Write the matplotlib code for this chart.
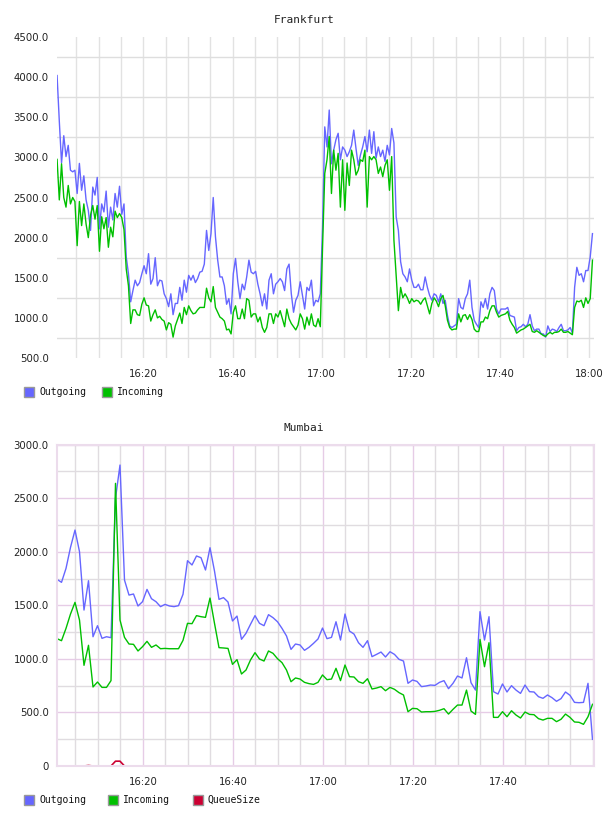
import matplotlib
matplotlib.use("Agg")
import matplotlib.pyplot as plt
import matplotlib.dates as mdates
import pandas as pd
from matplotlib.patches import Rectangle
from matplotlib.ticker import FuncFormatter, MultipleLocator, FixedLocator

# Frankfurt, one sample every 30 s from 16:00:40
fra_outgoing = [
    4020, 3450, 2930, 3270, 3010, 3150, 2840, 2820, 2840, 2550,
    2925, 2590, 2770, 2470, 2340, 2090, 2630, 2530, 2750, 2110,
    2420, 2320, 2580, 2130, 2380, 2220, 2550, 2380, 2640, 2290,
    2420, 1760, 1550, 1200, 1340, 1470, 1400, 1440, 1550, 1650,
    1550, 1800, 1420, 1490, 1750, 1400, 1470, 1460, 1300, 1240,
    1140, 1300, 1040, 1180, 1180, 1380, 1220, 1470, 1320, 1530,
    1470, 1530, 1440, 1490, 1570, 1580, 1670, 2090, 1840, 2050,
    2500, 2010, 1720, 1510, 1510, 1400, 1170, 1240, 1050, 1550,
    1740, 1450, 1240, 1420, 1350, 1510, 1720, 1570, 1550, 1580,
    1420, 1300, 1150, 1300, 1110, 1470, 1550, 1300, 1420, 1450,
    1490, 1450, 1340, 1610, 1670, 1300, 1070, 1220, 1280, 1450,
    1280, 1110, 1380, 1340, 1470, 1150, 1220, 1200, 1300, 2130,
    3380, 3130, 3590, 2920, 3090, 3220, 3300, 2970, 3130, 3090,
    3010, 3070, 3150, 3340, 3110, 2900, 3030, 3130, 3260, 3070,
    3340, 3050, 3320, 2990, 3130, 3010, 3090, 2950, 3150, 3030,
    3360, 3180, 2260, 2090, 1700, 1550, 1510, 1450, 1610, 1470,
    1380, 1380, 1420, 1350, 1350, 1510, 1380, 1280, 1220, 1300,
    1280, 1200, 1300, 1180, 1220, 1030, 900, 880, 900, 920,
    1240, 1130, 1110, 1240, 1300, 1470, 1130, 970, 920, 880,
    1200, 1130, 1240, 1110, 1300, 1380, 1340, 1110, 1050, 1110,
    1110, 1110, 1130, 1030, 1020, 1010, 840, 880, 890, 920,
    890, 920, 1040, 900, 840, 860, 860, 800, 800, 760,
    900, 830, 860, 850, 830, 880, 920, 840, 840, 850,
    880, 810, 1380, 1630, 1530, 1550, 1450, 1590, 1590, 1760, 2050,
]
fra_incoming = [
    2975, 2470, 2920, 2500, 2380, 2650, 2420, 2500, 2450, 1900,
    2450, 2150, 2420, 2170, 2000, 2280, 2400, 2230, 2400, 1830,
    2260, 2110, 2250, 1880, 2130, 2010, 2330, 2250, 2300, 2250,
    2100, 1610, 1400, 930, 1100, 1100, 1040, 1030, 1170, 1250,
    1160, 1150, 960, 1040, 1100, 1000, 1020, 980, 960, 850,
    940, 920, 760, 900, 980, 1060, 930, 1130, 1040, 1150,
    1090, 1050, 1060, 1100, 1130, 1130, 1130, 1370, 1250, 1200,
    1390, 1130, 1070, 1010, 990, 960, 850, 860, 800, 1070,
    1150, 990, 990, 1110, 990, 1240, 1220, 1010, 1050, 1050,
    950, 1010, 880, 820, 880, 1050, 1050, 930, 1050, 1010,
    1090, 990, 890, 1110, 990, 930, 890, 850, 910, 1050,
    990, 860, 1010, 910, 1050, 910, 890, 990, 890, 1880,
    2800, 2970, 3260, 2550, 3090, 2840, 3050, 2380, 2970, 2340,
    2930, 2650, 3090, 2970, 2780, 2840, 2970, 2950, 3090, 2380,
    3010, 2970, 3010, 2970, 2800, 2880, 2760, 2900, 2970, 2590,
    3010, 1970, 1530, 1090, 1380, 1250, 1300, 1250, 1180, 1240,
    1200, 1220, 1210, 1170, 1220, 1250, 1150, 1050, 1180, 1250,
    1210, 1140, 1240, 1280, 1150, 970, 880, 850, 860, 860,
    1050, 950, 1030, 1040, 980, 1040, 980, 860, 830, 830,
    950, 950, 1010, 990, 1090, 1150, 1150, 1070, 1010, 1030,
    1040, 1050, 1080, 970, 920, 880, 810, 830, 850, 860,
    880, 900, 920, 830, 820, 840, 820, 800, 780, 770,
    800, 820, 800, 820, 820, 830, 860, 820, 820, 830,
    810, 790, 1130, 1210, 1200, 1220, 1130, 1250, 1180, 1240, 1720,
]

# Mumbai, one sample per minute from 16:00:55
mum_outgoing = [
    1743, 1715, 1845, 2041, 2203, 2001, 1456, 1730, 1207, 1310,
    1192, 1207, 1198, 2500, 2810, 1736, 1596, 1606, 1494, 1534,
    1649, 1562, 1534, 1488, 1509, 1494, 1488, 1497, 1603, 1917,
    1877, 1961, 1945, 1830, 2038, 1820, 1556, 1572, 1531, 1354,
    1400, 1183, 1239, 1323, 1404, 1332, 1310, 1413, 1385, 1347,
    1285, 1214, 1089, 1139, 1130, 1080, 1108, 1145, 1186, 1288,
    1189, 1201, 1347, 1176, 1419, 1260, 1232, 1151, 1108, 1170,
    1021, 1042, 1064, 1018, 1067, 1042, 996, 980, 772, 803,
    790, 741, 747, 756, 753, 781, 797, 722, 772, 840,
    822, 1011, 778, 709, 1441, 1176, 1394, 694, 672, 766,
    691, 750, 709, 678, 756, 694, 691, 647, 632, 663,
    638, 604, 629, 691, 660, 594, 591, 594, 772, 249,
]
mum_incoming = [
    1189, 1170, 1285, 1419, 1528, 1363, 940, 1127, 738, 784,
    734, 734, 797, 2639, 1363, 1201, 1139, 1136, 1074, 1114,
    1164, 1108, 1130, 1095, 1098, 1095, 1095, 1095, 1173, 1332,
    1329, 1404, 1394, 1388, 1568, 1332, 1105, 1102, 1098, 949,
    993, 859, 896, 990, 1058, 999, 980, 1074, 1052, 1002,
    965, 896, 787, 822, 812, 781, 769, 762, 781, 850,
    806, 812, 912, 797, 943, 834, 831, 787, 772, 815,
    719, 728, 741, 703, 734, 716, 685, 663, 507, 538,
    535, 504, 507, 507, 510, 520, 535, 485, 529, 569,
    569, 709, 513, 482, 1182, 927, 1151, 454, 454, 507,
    460, 516, 476, 448, 504, 482, 479, 442, 429, 445,
    445, 414, 436, 485, 454, 411, 408, 389, 460, 576,
]
mum_queue = [0] * 120
mum_queue[7] = 5
mum_queue[13] = 45
mum_queue[14] = 45

fra_times = pd.date_range("2015-06-01 16:00:40", periods=len(fra_outgoing), freq="30s")
mum_times = pd.date_range("2015-06-01 16:00:55", periods=len(mum_outgoing), freq="60s")

BLUE = "#6666ff"
GREEN = "#00c000"
RED = "#cc0033"
W, H = 608, 816


def fmt_val(v, pos):
    return "0" if v == 0 else "%.1f" % v


def style_axis(ax, ymax):
    ax.set_axisbelow(True)
    ax.tick_params(which="both", length=0, labelsize=7.3, labelcolor="#222222")
    ax.tick_params(axis="y", pad=6)
    ax.tick_params(axis="x", pad=8)
    ax.yaxis.set_major_locator(MultipleLocator(500))
    ax.yaxis.set_minor_locator(FixedLocator(list(range(250, ymax, 500))))
    ax.yaxis.set_major_formatter(FuncFormatter(fmt_val))
    ax.xaxis.set_minor_locator(mdates.MinuteLocator(byminute=range(0, 60, 5)))
    ax.xaxis.set_major_formatter(mdates.DateFormatter("%H:%M"))


def legend(fig, y, items):
    for x, label, color in items:
        fig.patches.append(Rectangle((x / W, 1 - (y + 5) / H), 10 / W, 10 / H,
                                     transform=fig.transFigure, facecolor=color,
                                     edgecolor="#999999", lw=1))
        fig.text((x + 15) / W, 1 - y / H, label, va="center", ha="left",
                 family="DejaVu Sans Mono", fontsize=7, color="#111111")


fig = plt.figure(figsize=(W / 100, H / 100), dpi=100)

# Frankfurt
ax1 = fig.add_axes([57 / W, 1 - 358 / H, 536.5 / W, 321 / H])
ax1.plot(fra_times, fra_outgoing, color=BLUE, lw=1.0)
ax1.plot(fra_times, fra_incoming, color=GREEN, lw=1.0)
style_axis(ax1, 4500)
ax1.xaxis.set_major_locator(mdates.MinuteLocator(byminute=[0, 20, 40]))
ax1.set_ylim(500, 4500)
ax1.set_xlim(pd.Timestamp("2015-06-01 16:00:39"), pd.Timestamp("2015-06-01 18:00:54"))
ax1.xaxis.grid(True, which="both", color="#e2e2e2", lw=1)
ax1.yaxis.grid(False, which="major")
ax1.yaxis.grid(True, which="minor", color="#dedede", lw=1)
for s in ax1.spines.values():
    s.set_visible(False)
fig.text(304 / W, 1 - 20 / H, "Frankfurt", ha="center", va="center",
         family="DejaVu Sans Mono", fontsize=8, color="#222222")
legend(fig, 392, [(24, "Outgoing", BLUE), (102, "Incoming", GREEN)])

# Mumbai
ax2 = fig.add_axes([57 / W, 1 - 766 / H, 537 / W, 321.3 / H])
ax2.plot(mum_times, mum_outgoing, color=BLUE, lw=1.0)
ax2.plot(mum_times, mum_incoming, color=GREEN, lw=1.0)
ax2.plot(mum_times, mum_queue, color=RED, lw=1.2)
style_axis(ax2, 3000)
ax2.xaxis.set_major_locator(FixedLocator(mdates.date2num(
    pd.date_range("2015-06-01 16:20", "2015-06-01 17:40", freq="20min"))))
ax2.set_ylim(0, 3000)
ax2.set_xlim(mum_times[0], mum_times[-1] + pd.Timedelta(seconds=20))
ax2.grid(axis="both", which="minor", color="#e0dce0", lw=1)
ax2.grid(axis="both", which="major", color="#e6cce6", lw=1)
for s in ax2.spines.values():
    s.set_color("#ecdcec")
    s.set_linewidth(1.5)
fig.text(304 / W, 1 - 428 / H, "Mumbai", ha="center", va="center",
         family="DejaVu Sans Mono", fontsize=8, color="#222222")
legend(fig, 800, [(24, "Outgoing", BLUE), (108, "Incoming", GREEN), (193, "QueueSize", RED)])

fig.savefig("out.png", dpi=100)
